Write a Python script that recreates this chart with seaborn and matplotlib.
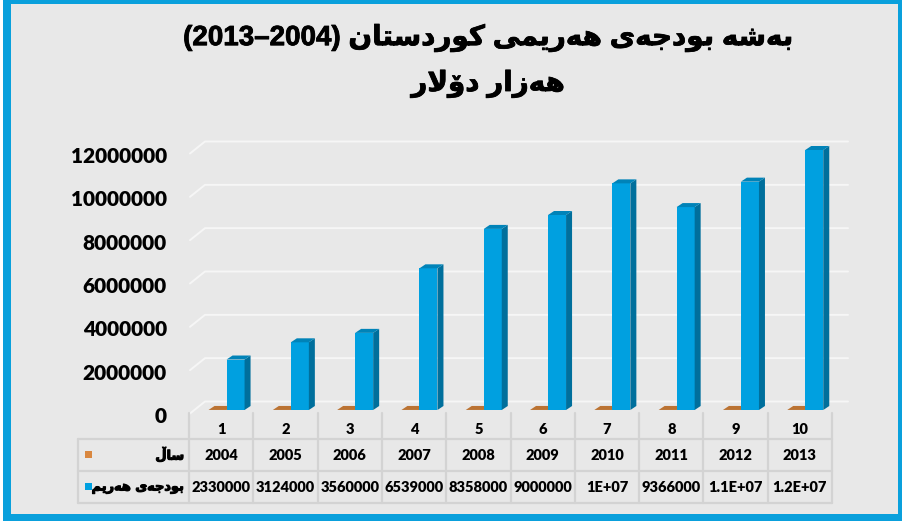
import matplotlib
matplotlib.use("Agg")
import matplotlib.pyplot as plt
import matplotlib.transforms as mtransforms
import matplotlib.patheffects as pe
from matplotlib.patches import Polygon, Rectangle
from matplotlib.lines import Line2D
from matplotlib.colors import to_rgba
import numpy as np
import pandas as pd
import seaborn as sns

# ---------------- data ----------------
categories = [1, 2, 3, 4, 5, 6, 7, 8, 9, 10]
years = [2004, 2005, 2006, 2007, 2008, 2009, 2010, 2011, 2012, 2013]
budget = [2330000, 3124000, 3560000, 6539000, 8358000, 9000000,
          10460000, 9366000, 10540000, 12000000]
series_names = ["ساڵ", "بودجەی هەرێم"]
title_text = "بەشە بودجەی هەرێمی کوردستان (2004–2013)"
subtitle_text = "هەزار دۆلار"
y_ticks = [0, 2000000, 4000000, 6000000, 8000000, 10000000, 12000000]
series_colors = ["#d9873f", "#00a0e0"]
side_colors = ["#a8652c", "#006f9c"]
top_colors = ["#bb7333", "#0083b8"]


def excel_general(v, width=7):
    s = str(int(v)) if float(v).is_integer() else str(v)
    if len(s) <= width:
        return s
    exp = int(np.floor(np.log10(abs(v))))
    for dec in range(6, -1, -1):
        mant = round(v / 10 ** exp, dec)
        m = ("%.*f" % (dec, mant)).rstrip("0").rstrip(".")
        out = "%sE+%02d" % (m, exp)
        if len(out) <= width:
            return out
    return s


# ------------- simple Arabic-script shaping (visual order) -------------
FORMS = {  # isolated, final, initial, medial
    "\u0627": ("\uFE8D", "\uFE8E", None, None),
    "\u0628": ("\uFE8F", "\uFE90", "\uFE91", "\uFE92"),
    "\u062A": ("\uFE95", "\uFE96", "\uFE97", "\uFE98"),
    "\u062C": ("\uFE9D", "\uFE9E", "\uFE9F", "\uFEA0"),
    "\u062F": ("\uFEA9", "\uFEAA", None, None),
    "\u0631": ("\uFEAD", "\uFEAE", None, None),
    "\u0632": ("\uFEAF", "\uFEB0", None, None),
    "\u0633": ("\uFEB1", "\uFEB2", "\uFEB3", "\uFEB4"),
    "\u0634": ("\uFEB5", "\uFEB6", "\uFEB7", "\uFEB8"),
    "\u0644": ("\uFEDD", "\uFEDE", "\uFEDF", "\uFEE0"),
    "\u0645": ("\uFEE1", "\uFEE2", "\uFEE3", "\uFEE4"),
    "\u0646": ("\uFEE5", "\uFEE6", "\uFEE7", "\uFEE8"),
    "\u0647": ("\uFEE9", "\uFEEA", "\uFEEB", "\uFEEC"),
    "\u0648": ("\uFEED", "\uFEEE", None, None),
    "\u06CC": ("\uFBFC", "\uFBFD", "\uFBFE", "\uFBFF"),
    "\u06A9": ("\uFB8E", "\uFB8F", "\uFB90", "\uFB91"),
    "\u06C6": ("\uFBD9", "\uFBDA", None, None),
    "\u06D5": ("\u06D5", "\uFEEA", None, None),
    "\u06CE": ("\u06CE", "\uFBFD", "\uFBFE", "\uFBFF"),
    "\u06B5": ("\u06B5", "\uFEDE", "\uFEDF", "\uFEE0"),
}


def is_ar(c):
    return c in FORMS


def dual(c):
    return c in FORMS and FORMS[c][2] is not None


def to_visual(text):
    units = []  # (kind, string)
    i = 0
    n = len(text)
    while i < n:
        c = text[i]
        if is_ar(c):
            prev_j = i > 0 and dual(text[i - 1])
            if c == "\u0644" and i + 1 < n and text[i + 1] == "\u0627":
                units.append(("R", "\uFEFC" if prev_j else "\uFEFB"))
                i += 2
                continue
            next_j = dual(c) and i + 1 < n and is_ar(text[i + 1])
            iso, fin, ini, med = FORMS[c]
            if prev_j and next_j:
                g = med
            elif prev_j:
                g = fin
            elif next_j:
                g = ini
            else:
                g = iso
            units.append(("R", g))
            i += 1
        elif c.isdigit():
            j = i
            while j < n and text[j].isdigit():
                j += 1
            units.append(("N", text[i:j]))
            i = j
        else:
            units.append(("O", c))
            i += 1
    mirror = {"(": ")", ")": "("}
    out = []
    for kind, s in reversed(units):
        out.append(mirror.get(s, s) if kind == "O" else s)
    return "".join(out)


# ---------------- figure ----------------
W, H = 903, 521
DPI = 100
bg = "#e8e8e8"
sns.set_theme(style="white")
plt.rcParams["font.family"] = ["Lato", "DejaVu Sans"]

fig = plt.figure(figsize=(W / DPI, H / DPI), dpi=DPI, facecolor=bg)
IDT = mtransforms.IdentityTransform()


def py(y_img):
    return H - y_img


# axes: x data -0.5..9.5 -> px 189..832 ; y 0 -> 410, 12M -> 150
ax_l, ax_r, ax_b, ax_t = 189, 832, 410, 150
ax = fig.add_axes([ax_l / W, (H - ax_b) / H, (ax_r - ax_l) / W, (ax_b - ax_t) / H])
ax.set_facecolor("none")

df = pd.DataFrame({
    "cat": categories * 2,
    "series": [series_names[0]] * len(categories) + [series_names[1]] * len(categories),
    "value": years + budget,
})
sns.barplot(data=df, x="cat", y="value", hue="series", hue_order=series_names,
            palette=series_colors, width=0.56, gap=0, dodge=True, legend=False,
            saturation=1, linewidth=0, edgecolor="none", ax=ax)

ax.set_xlim(-0.5, len(categories) - 0.5)
ax.set_ylim(0, 12000000)
ax.autoscale(False)
for s in ax.spines.values():
    s.set_visible(False)
ax.set_xticks([])
ax.set_xlabel("")
ax.set_ylabel("")
ax.set_yticks(y_ticks)
ax.set_yticklabels([str(t) for t in y_ticks], fontsize=15, fontweight="heavy",
                   color="black")
ax.tick_params(axis="y", length=0, pad=16)
for lab in ax.get_yticklabels():
    lab.set_transform(lab.get_transform() +
                      mtransforms.ScaledTranslation(0, -5 / DPI, fig.dpi_scale_trans))

# 3D depth for bars
dx, dy = 6, 4
shift = 0.084
fig.canvas.draw()
for p in ax.patches:
    fc = p.get_facecolor()
    k = 0 if np.allclose(fc[:3], to_rgba(series_colors[0])[:3], atol=0.02) else 1
    p.set_x(p.get_x() + shift)
    p.set_zorder(1 if k == 0 else 2)
    p.set_clip_on(False)
    x0, y0 = ax.transData.transform((p.get_x(), 0))
    x1, y1 = ax.transData.transform((p.get_x() + p.get_width(), p.get_height()))
    side = Polygon([(x1, y0), (x1 + dx, y0 + dy), (x1 + dx, y1 + dy), (x1, y1)],
                   closed=True, transform=IDT, facecolor=side_colors[k],
                   edgecolor="none", clip_on=False, zorder=1.5 if k == 0 else 2.5)
    top = Polygon([(x0, y1), (x0 + dx, y1 + dy), (x1 + dx, y1 + dy), (x1, y1)],
                  closed=True, transform=IDT, facecolor=top_colors[k],
                  edgecolor="none", clip_on=False, zorder=1.5 if k == 0 else 2.5)
    ax.add_artist(side)
    ax.add_artist(top)

# gridlines on 3D walls
grid_c = "#f6f6f6"
for v in y_ticks:
    yd = ax.transData.transform((0, v))[1]
    ax.add_artist(Line2D([190, 205, 848], [yd - 3.5, yd + 8.5, yd + 8.5],
                         transform=IDT, color=grid_c, lw=1.4, clip_on=False,
                         zorder=0.5))

# ---------------- data table ----------------
line_c = "#d3d3d3"
col_x = [ax.transData.transform((i - 0.5, 0))[0] for i in range(len(categories) + 1)]
tbl_left = 78
rows_y = [413, 439, 471, 503]


def hline(x_a, x_b, y_img):
    fig.add_artist(Line2D([x_a, x_b], [py(y_img), py(y_img)], transform=IDT,
                          color=line_c, lw=1.6))


def vline(x, y_a, y_b):
    fig.add_artist(Line2D([x, x], [py(y_a), py(y_b)], transform=IDT,
                          color=line_c, lw=1.6))


hline(tbl_left, col_x[-1], rows_y[1])
hline(tbl_left, col_x[-1], rows_y[2])
hline(tbl_left, col_x[-1], rows_y[3])
vline(tbl_left, rows_y[1], rows_y[3])
for x in col_x:
    vline(x, rows_y[0], rows_y[3])

row_centers = [429, 455, 487]
budget_labels = [excel_general(v) for v in budget]
for i in range(len(categories)):
    xc = (col_x[i] + col_x[i + 1]) / 2
    for yc, s in zip(row_centers, [str(categories[i]), str(years[i]), budget_labels[i]]):
        fig.text(xc, py(yc), s, transform=IDT, ha="center", va="center",
                 fontsize=10.5, fontweight="heavy", color="black")

# legend keys + series names
thick_small = [pe.withStroke(linewidth=0.8, foreground="black")]
thick_big = [pe.withStroke(linewidth=0.6, foreground="black")]
for k, yc in enumerate(row_centers[1:]):
    fig.add_artist(Rectangle((85, py(yc) - 3), 7, 7, transform=IDT,
                             facecolor=series_colors[k], edgecolor="none"))
    fig.text(184, py(yc), to_visual(series_names[k]), transform=IDT, ha="right",
             va="center", fontsize=9.3, fontweight="bold", color="black",
             family=["DejaVu Sans"], path_effects=thick_small)

# ---------------- titles ----------------
fig.text(488, py(38), to_visual(title_text), transform=IDT, ha="center",
         va="center", fontsize=20, fontweight="bold", color="black",
         family=["Liberation Sans", "DejaVu Sans"], path_effects=thick_big)
fig.text(488, py(84), to_visual(subtitle_text), transform=IDT, ha="center",
         va="center", fontsize=20, fontweight="bold", color="black",
         family=["Liberation Sans", "DejaVu Sans"], path_effects=thick_big)

# ---------------- frame ----------------
frame_c = "#0aa0dc"
fig.add_artist(Rectangle((0, 0), 3, H, transform=IDT, facecolor="white", edgecolor="none"))
fig.add_artist(Rectangle((3, 0), 8, H, transform=IDT, facecolor=frame_c, edgecolor="none"))
fig.add_artist(Rectangle((3, H - 4), W, 4, transform=IDT, facecolor=frame_c, edgecolor="none"))
fig.add_artist(Rectangle((W - 5, 0), 5, H, transform=IDT, facecolor=frame_c, edgecolor="none"))
fig.add_artist(Rectangle((3, 0), W, 7, transform=IDT, facecolor=frame_c, edgecolor="none"))

fig.savefig("out.png", dpi=DPI, facecolor=bg)
